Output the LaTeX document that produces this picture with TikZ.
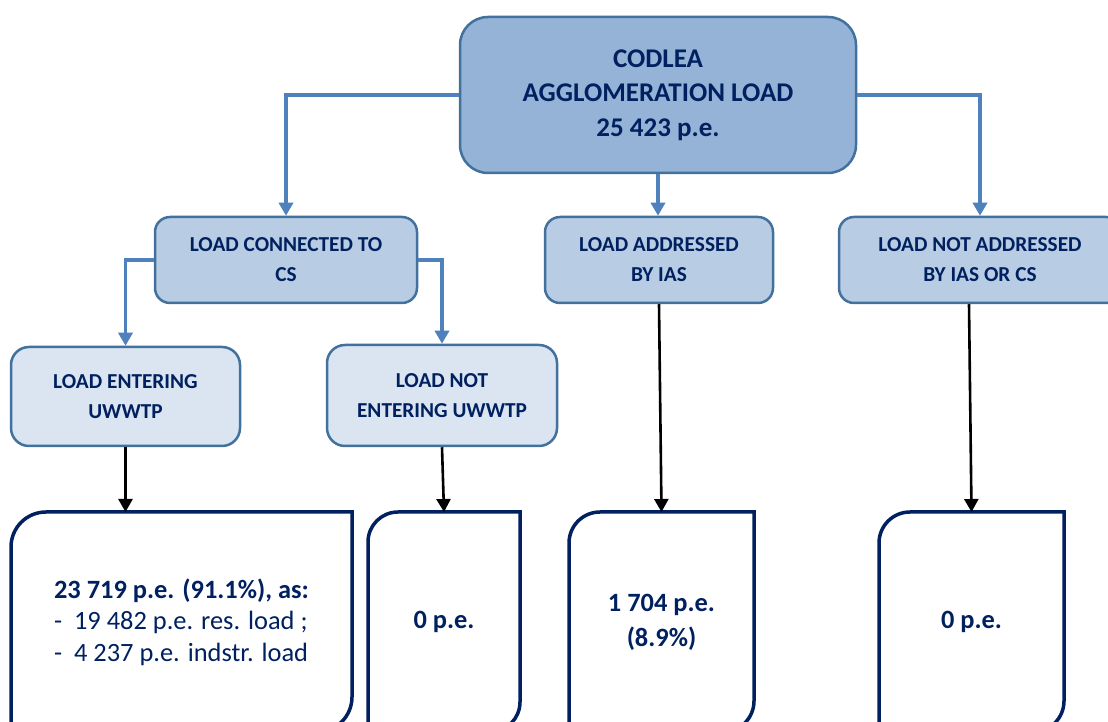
\documentclass[tikz,border=0pt]{standalone}
\usepackage{fontspec}
\setmainfont{Carlito}
\usetikzlibrary{arrows.meta,calc}
\definecolor{topfill}{RGB}{149,179,215}
\definecolor{midfill}{RGB}{184,204,228}
\definecolor{lowfill}{RGB}{219,229,241}
\definecolor{boxedge}{RGB}{65,113,156}
\definecolor{linkblue}{RGB}{79,129,189}
\definecolor{navy}{RGB}{0,32,96}
\newcommand\diagoutline[2]{%
  \draw[bottomedge] (#1.south west) -- ($(#1.north west)+(0,-#2)$)
    arc[start angle=180,end angle=90,radius=#2pt] -- (#1.north east)
    -- ($(#1.south east)+(0,#2)$)
    arc[start angle=0,end angle=-90,radius=#2pt] -- cycle;}
\begin{document}
\begin{tikzpicture}[x=1pt,y=1pt,
  topbox/.style={draw=boxedge, fill=topfill, line width=2.5pt, rounded corners=28pt,
    minimum width=396pt, minimum height=156pt, align=center, text=navy, inner sep=0pt,
    font={\fontsize{27}{34.5}\selectfont\bfseries}},
  midbox/.style={draw=boxedge, fill=midfill, line width=2.5pt, rounded corners=15pt,
    minimum height=86pt, align=center, text=navy, inner sep=0pt,
    font={\fontsize{21.3}{30}\selectfont\bfseries}},
  lowbox/.style={draw=boxedge, fill=lowfill, line width=2.5pt, rounded corners=18pt,
    align=center, text=navy, inner sep=0pt,
    font={\fontsize{21.3}{30.5}\selectfont\bfseries}},
  resbox/.style={draw=none, minimum height=220pt, inner sep=0pt, outer sep=0pt,
    text=navy, font={\fontsize{26.4}{31.5}\selectfont}},
  bottomedge/.style={draw=navy, line width=3.5pt},
  bluelink/.style={draw=linkblue, line width=3.8pt, -{Triangle[width=14pt,length=13pt]}},
  blacklink/.style={draw=black, line width=2.6pt, -{Triangle[width=14pt,length=13pt]}}
]
\useasboundingbox (0,0) rectangle (1108,722);
\clip (0,0) rectangle (1108,722);
\fill[white] (0,0) rectangle (1108,722);

% top
\node[topbox] (top) at (658,627) {CODLEA\\AGGLOMERATION LOAD\\25 423 p.e.};

% level 2
\node[midbox, minimum width=262pt] (cs) at (286,462) {LOAD CONNECTED TO\\CS};
\node[midbox, minimum width=228pt] (ias) at (659,462) {LOAD ADDRESSED\\BY IAS};
\node[midbox, minimum width=282pt] (na) at (980,462) {LOAD NOT ADDRESSED\\BY IAS OR CS};

% level 3
\node[lowbox, minimum width=229pt, minimum height=99pt] (ent) at (125.5,325.5) {LOAD ENTERING\\UWWTP};
\node[lowbox, minimum width=230pt, minimum height=101pt] (nent) at (442,326.5) {LOAD NOT\\ENTERING UWWTP};

% bottom result boxes
\node[resbox, minimum width=341pt, align=left] (b1) at (181.5,100)
  {\textbf{23 719 p.e. (91.1\%), as:}\\-\ \ 19 482 p.e. res. load ;\\-\ \ 4 237 p.e. indstr. load};
\node[resbox, minimum width=152pt, align=center, font={\fontsize{26.4}{31.5}\selectfont\bfseries}] (b2) at (444,100) {0 p.e.};
\node[resbox, minimum width=185pt, align=center, font={\fontsize{26.4}{35}\selectfont\bfseries}] (b3) at (661.5,100) {1 704 p.e.\\(8.9\%)};
\node[resbox, minimum width=185pt, align=center, font={\fontsize{26.4}{31.5}\selectfont\bfseries}] (b4) at (971.5,100) {0 p.e.};
\diagoutline{b1}{35}
\diagoutline{b2}{30}
\diagoutline{b3}{31}
\diagoutline{b4}{31}

% blue connectors
\draw[bluelink] (top.west) -| (cs.north);
\draw[bluelink] (top.south) -- (top.south |- ias.north);
\draw[bluelink] (top.east) -| (na.north);
\draw[bluelink] (cs.west) -| (ent.north);
\draw[bluelink] (cs.east) -| (nent.north);

% black connectors
\coordinate (naout) at ($(na.south)+(-11,0)$);
\draw[blacklink] (ent.south) -- (ent.south |- b1.north);
\draw[blacklink] (nent.south) -- (b2.north);
\draw[blacklink] (ias.south) -- (b3.north);
\draw[blacklink] (naout) -- (b4.north);
\end{tikzpicture}
\end{document}
